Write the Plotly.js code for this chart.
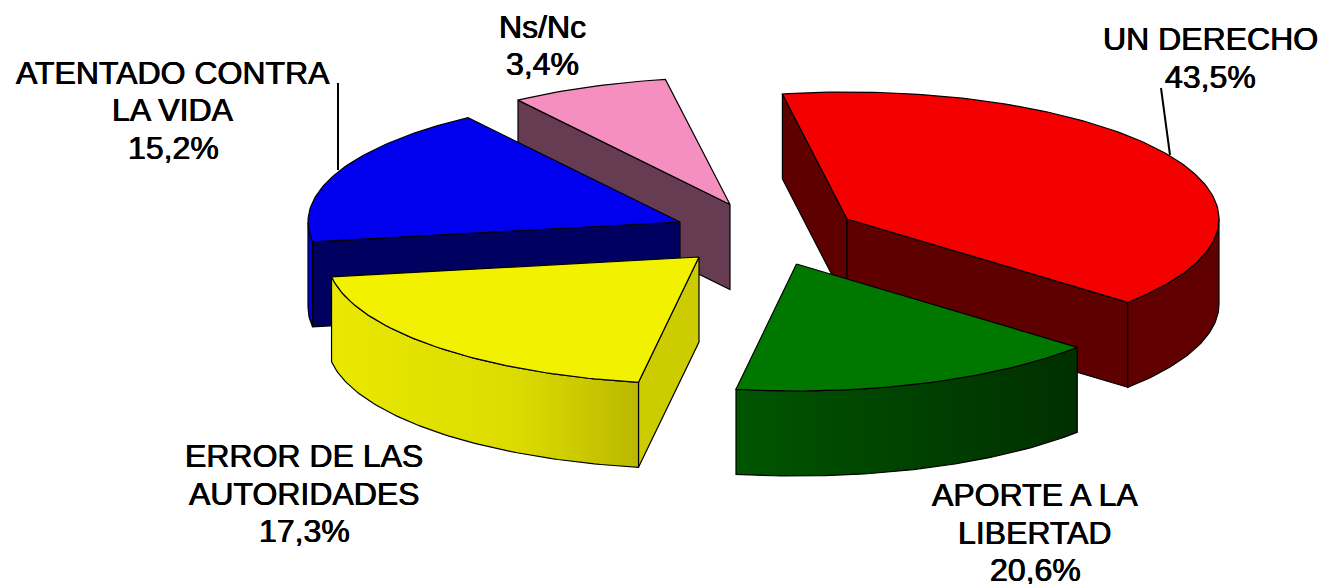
<!DOCTYPE html>
<html><head><meta charset="utf-8">
<script src="https://cdn.plot.ly/plotly-3.0.1.min.js"></script>
<style>html,body{margin:0;padding:0;background:#fff}#chart{width:1320px;height:584px}</style>
</head><body><div id="chart"></div>
<script>
// ---- data ----
const categories = ["UN DERECHO", "APORTE A LA LIBERTAD", "ERROR DE LAS AUTORIDADES", "ATENTADO CONTRA LA VIDA", "Ns/Nc"];
const percentages = [43.5, 20.6, 17.3, 15.2, 3.4];
const labelLines = [["UN DERECHO"], ["APORTE A LA", "LIBERTAD"], ["ERROR DE LAS", "AUTORIDADES"], ["ATENTADO CONTRA", "LA VIDA"], ["Ns/Nc"]];

// ---- 3-D look of the pie: placement and style only ----
const radiusX = 372, radiusY = 127, depth = 85;
const startAngle = -100;
const perspectiveShift = [0, -15.6, -31.4, -22, -12.5, 0];   // degrees at each slice boundary
const apexX = [847, 796.5, 699, 680, 730];
const apexY = [219, 264, 257, 222, 204.5];
const topColor = ["#f40000", "#007800", "#f2f200", "#0000ee", "#f48fc0"];
const sideColor = ["#5e0000", "#003c00", "#cccc00", "#000060", "#663c52"];
const arcGradient = [
  [[0, "#620000"], [1, "#600000"]],
  [[0, "#005500"], [1, "#002f00"]],
  [[0, "#e8e800"], [0.6, "#dcdc00"], [1, "#bcb800"]],
  [[0, "#0000e0"], [1, "#0000e0"]],
  [[0, "#663c52"], [1, "#663c52"]]
];
const labelX = [1210, 1035, 304, 173, 542];
const labelY = [39, 495, 456, 72.5, 26.5];
const lineStep = 37.5;
const paintOrder = [4, 3, 0, 1, 2];
const leaderX = [[338, 338], [1161, 1170]];
const leaderY = [[83, 170], [88, 155]];

// ---- slice boundaries derived from the values ----
const boundaries = [startAngle + perspectiveShift[0]];
let cumulative = 0;
percentages.forEach((p, i) => {
  cumulative += p;
  boundaries.push(startAngle + cumulative * 3.6 + perspectiveShift[i + 1]);
});
const rad = d => d * Math.PI / 180;
const rimPoint = (i, a, drop) => [apexX[i] + radiusX * Math.cos(rad(a)), apexY[i] + radiusY * Math.sin(rad(a)) + drop];
function arc(i, a0, a1, drop) {
  const n = Math.max(2, Math.ceil(Math.abs(a1 - a0)));
  const pts = [];
  for (let k = 0; k <= n; k++) pts.push(rimPoint(i, a0 + (a1 - a0) * k / n, drop));
  return pts;
}
const edge = {color: "#000", width: 1.2};
function polygon(pts, fill) {
  const t = {
    x: pts.map(p => p[0]).concat([pts[0][0]]),
    y: pts.map(p => p[1]).concat([pts[0][1]]),
    mode: "lines", type: "scatter", fill: "toself", line: edge, hoverinfo: "skip", showlegend: false
  };
  if (Array.isArray(fill)) { t.fillgradient = {type: "horizontal", colorscale: fill}; t.fillcolor = fill[0][1]; }
  else t.fillcolor = fill;
  return t;
}
function radialWall(i, a) {
  const r = rimPoint(i, a, 0), d = rimPoint(i, a, depth);
  return polygon([[apexX[i], apexY[i]], r, d, [apexX[i], apexY[i] + depth]], sideColor[i]);
}
// part of an arc [a0,a1] lying on the viewer's side (sin > 0)
function frontRange(a0, a1) {
  for (let k = -1; k <= 2; k++) {
    const lo = Math.max(a0, 360 * k), hi = Math.min(a1, 360 * k + 180);
    if (hi > lo) return [lo, hi];
  }
  return null;
}
const traces = [];
paintOrder.forEach(i => {
  const a0 = boundaries[i], a1 = boundaries[i + 1];
  if (Math.cos(rad(a0)) < 0) traces.push(radialWall(i, a0));
  if (Math.cos(rad(a1)) > 0) traces.push(radialWall(i, a1));
  const fr = frontRange(a0, a1);
  if (fr) traces.push(polygon(arc(i, fr[0], fr[1], 0).concat(arc(i, fr[1], fr[0], depth)), arcGradient[i]));
  traces.push(polygon([[apexX[i], apexY[i]]].concat(arc(i, a0, a1, 0)), topColor[i]));
});
leaderX.forEach((lx, k) => traces.push({
  x: lx, y: leaderY[k], mode: "lines", type: "scatter",
  line: {color: "#000", width: 2}, hoverinfo: "skip", showlegend: false
}));

const annotations = [];
categories.forEach((c, i) => {
  const lines = labelLines[i].concat([percentages[i].toFixed(1).replace(".", ",") + "%"]);
  lines.forEach((text, k) => annotations.push({
    x: labelX[i], y: labelY[i] + k * lineStep, xref: "x", yref: "y",
    text, showarrow: false, xanchor: "center", yanchor: "middle",
    font: {family: "Liberation Sans, Arial, sans-serif", size: 32, color: "#000",
           shadow: "0.4px 0 0 #000, -0.4px 0 0 #000"}
  }));
});

Plotly.newPlot("chart", traces, {
  width: 1320, height: 584,
  margin: {l: 0, r: 0, t: 0, b: 0},
  paper_bgcolor: "#fff", plot_bgcolor: "#fff",
  showlegend: false,
  xaxis: {range: [0, 1320], visible: false, fixedrange: true},
  yaxis: {range: [584, 0], visible: false, fixedrange: true},
  annotations
}, {displayModeBar: false, staticPlot: true});
</script></body></html>
